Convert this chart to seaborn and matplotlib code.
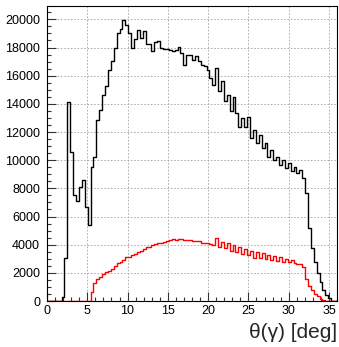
import numpy as np
import pandas as pd
import matplotlib
matplotlib.use('Agg')
import matplotlib.pyplot as plt
from matplotlib.ticker import MultipleLocator
import seaborn as sns

# 100 bins of 0.36 deg between 0 and 36 deg
theta_lo, theta_hi, n_bins = 0.0, 36.0, 100

all_counts = [
    0, 0, 0, 0, 0, 300, 3070, 14100, 10570, 7530,
    7100, 8120, 8570, 6700, 5400, 9550, 10260, 12870, 13580, 14600,
    15250, 16380, 17070, 17970, 19040, 19320, 19940, 19630, 19040, 17970,
    18610, 19220, 18680, 19150, 18260, 18260, 17730, 18370, 18440, 17970,
    17900, 17900, 17800, 17730, 17800, 18050, 17610, 16780, 17490, 17450,
    17140, 17370, 17020, 16780, 16660, 16430, 15840, 15360, 16540, 14880,
    15590, 14170, 14650, 13460, 14480, 13350, 12390, 12990, 12390, 13060,
    11570, 12160, 11210, 11800, 10850, 11210, 10210, 10730, 10020, 10260,
    9670, 10020, 9430, 9790, 9240, 9550, 9070, 9310, 8720, 7650,
    5160, 3740, 2780, 1960, 1360, 770, 410, 180, 0, 0,
]

sel_counts = [
    0, 0, 0, 0, 0, 0, 0, 0, 0, 0,
    0, 0, 0, 0, 0, 650, 1250, 1550, 1700, 1950,
    2050, 2150, 2300, 2500, 2700, 2750, 2900, 3100, 3100, 3250,
    3350, 3500, 3550, 3700, 3800, 3850, 3950, 4050, 4100, 4150,
    4200, 4250, 4300, 4420, 4330, 4380, 4380, 4350, 4300, 4330,
    4250, 4230, 4260, 4150, 4120, 4130, 4080, 4000, 4450, 3800,
    4210, 3740, 4090, 3570, 3970, 3500, 3860, 3330, 3680, 3260,
    3570, 3020, 3450, 3020, 3380, 2950, 3300, 2900, 3200, 2850,
    3100, 2800, 3000, 2750, 2900, 2700, 2650, 2600, 2450, 1550,
    1050, 770, 530, 320, 150, 80, 30, 0, 0, 0,
]

binw = (theta_hi - theta_lo) / n_bins
centers = theta_lo + binw * (np.arange(n_bins) + 0.5)
df = pd.DataFrame({'theta': centers, 'all': all_counts, 'sel': sel_counts})

sns.set_style('white')
plt.rcParams['font.family'] = ['Liberation Sans', 'DejaVu Sans']

fig = plt.figure(figsize=(3.39, 3.47), dpi=100)
ax = fig.add_axes([47 / 339, 1 - 301 / 347, 290 / 339, 295 / 347])

sns.histplot(data=df, x='theta', weights='all', binwidth=binw,
             binrange=(theta_lo, theta_hi), element='step',
             fill=False, color='black', linewidth=1.0, ax=ax)
sns.histplot(data=df, x='theta', weights='sel', binwidth=binw,
             binrange=(theta_lo, theta_hi), element='step',
             fill=False, color='red', linewidth=1.0, ax=ax)

ax.set_xlim(0, 36)
ax.set_ylim(0, 20950)
ax.set_xlabel('')
ax.set_ylabel('')

ax.xaxis.set_major_locator(MultipleLocator(5))
ax.xaxis.set_minor_locator(MultipleLocator(1))
ax.yaxis.set_major_locator(MultipleLocator(2000))
ax.yaxis.set_minor_locator(MultipleLocator(500))
ax.tick_params(which='both', bottom=True, left=True, top=False, right=False,
               direction='in', width=0.8, color='#333333')
ax.tick_params(which='major', length=6.3, labelsize=9, labelcolor='black', pad=3)
ax.tick_params(which='minor', length=3.1)
ax.tick_params(axis='y', which='major', pad=5)

ax.grid(True, which='major', linestyle=(0, (2, 2)), color='#a4a4a4', linewidth=0.6)
ax.set_axisbelow(True)
for s in ax.spines.values():
    s.set_color('black')
    s.set_linewidth(0.8)

fig.text(337 / 339, 1 - 338 / 347, 'θ(γ) [deg]', ha='right', va='baseline', fontsize=15)

fig.savefig('out.png', dpi=100)
